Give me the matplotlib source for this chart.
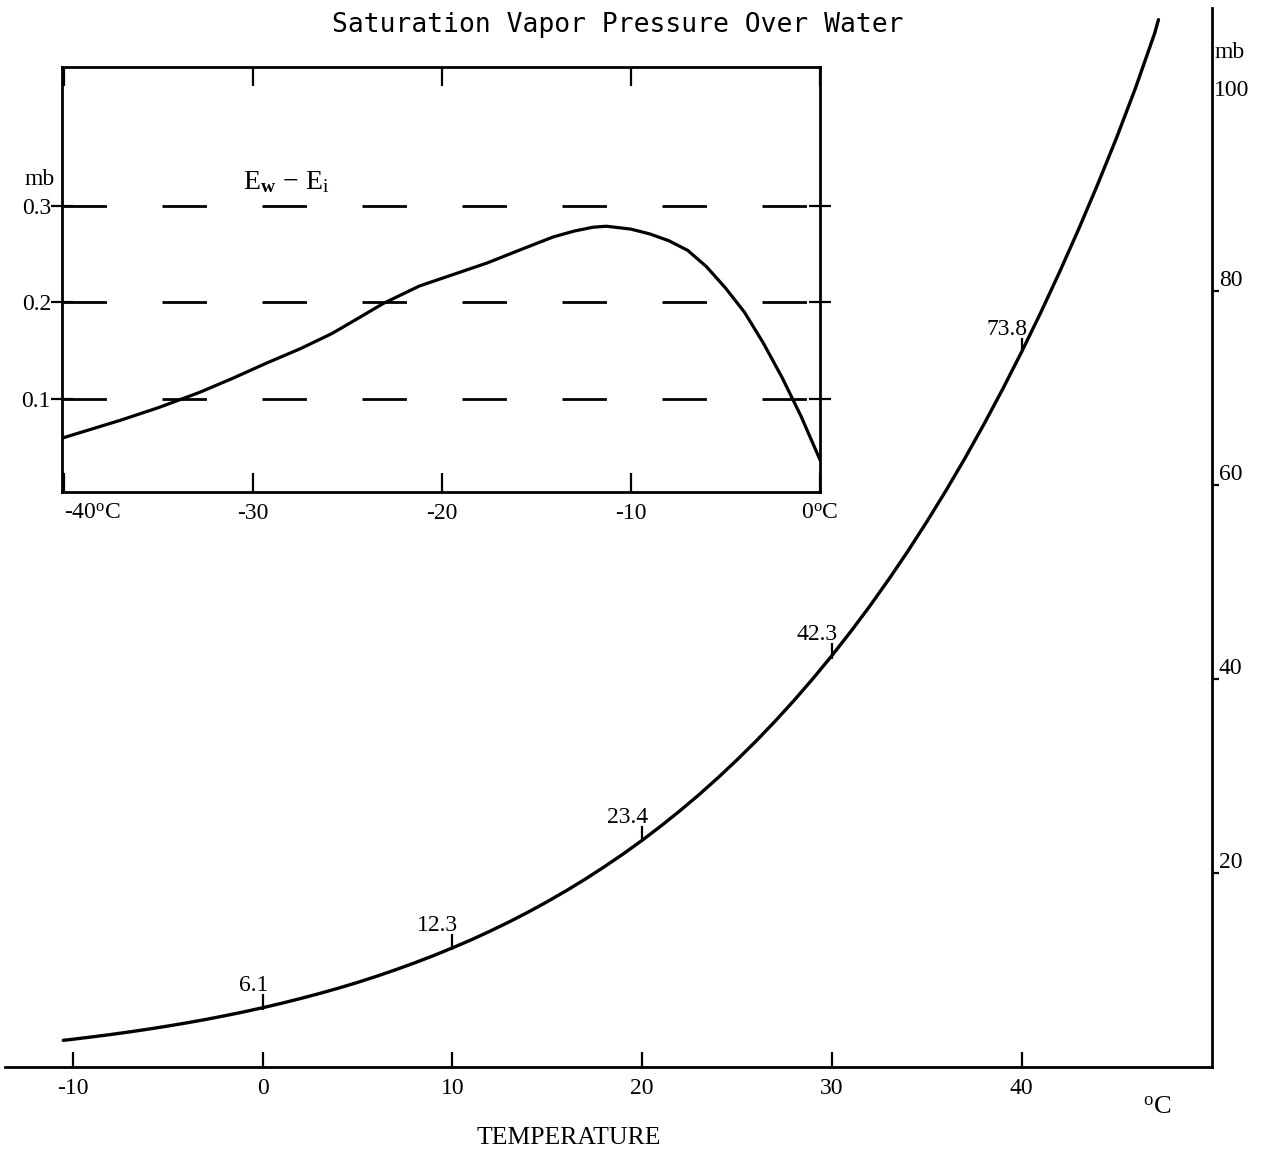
import matplotlib
matplotlib.use("Agg")
import matplotlib.pyplot as plt

# main curve: saturation vapour pressure over water (mb) vs temperature (C)
temp = [-10.5, -10, -9, -8, -7, -6, -5, -4, -3, -2, -1, 0, 1, 2, 3, 4, 5, 6, 7,
        8, 9, 10, 11, 12, 13, 14, 15, 16, 17, 18, 19, 20, 21, 22, 23, 24, 25,
        26, 27, 28, 29, 30, 31, 32, 33, 34, 35, 36, 37, 38, 39, 40, 41, 42,
        43, 44, 45, 46, 47, 47.2]
pres = [2.75, 2.86, 3.10, 3.35, 3.62, 3.91, 4.22, 4.55, 4.90, 5.28, 5.68, 6.11,
        6.57, 7.06, 7.58, 8.13, 8.72, 9.35, 10.02, 10.73, 11.48, 12.28, 13.12,
        14.02, 14.97, 15.98, 17.05, 18.18, 19.37, 20.64, 21.97, 23.38, 24.87,
        26.44, 28.09, 29.84, 31.68, 33.61, 35.65, 37.80, 40.06, 42.43, 44.93,
        47.55, 50.31, 53.20, 56.24, 59.42, 62.76, 66.26, 69.93, 73.78, 77.80,
        82.02, 86.42, 91.03, 95.86, 101.0, 106.6, 108.0]

# marked values on the curve
mark_temp = [0, 10, 20, 30, 40]
mark_pres = [6.1, 12.3, 23.4, 42.3, 73.8]
mark_text = ["6.1", "12.3", "23.4", "42.3", "73.8"]

x_ticks = [-10, 0, 10, 20, 30, 40]
y_ticks = [20, 40, 60, 80]

# inset: Ew - Ei (mb) vs temperature (C)
in_temp = [-40, -38.5, -37, -35, -32.8, -31, -29.3, -27.5, -25.8, -24.4, -23.1,
           -21.2, -19.4, -17.6, -15.8, -14.1, -13, -12, -11.3, -10, -9, -8,
           -7, -6, -5, -4, -3, -2, -1, 0]
in_diff = [0.060, 0.069, 0.078, 0.091, 0.107, 0.122, 0.137, 0.152, 0.168, 0.184,
           0.199, 0.217, 0.229, 0.241, 0.255, 0.268, 0.274, 0.278, 0.279, 0.276,
           0.271, 0.264, 0.254, 0.237, 0.215, 0.190, 0.158, 0.122, 0.082, 0.037]
in_x_ticks = [-40, -30, -20, -10, 0]
in_x_labels = ["-40$^{\\mathrm{o}}$C", "-30", "-20", "-10", "0$^{\\mathrm{o}}$C"]
in_y_ticks = [0.1, 0.2, 0.3]
in_y_labels = ["0.1", "0.2", "0.3"]

plt.rcParams["font.family"] = ["Liberation Serif", "DejaVu Serif"]
plt.rcParams["mathtext.fontset"] = "custom"
plt.rcParams["mathtext.rm"] = "Liberation Serif"
plt.rcParams["mathtext.it"] = "Liberation Serif:italic"
plt.rcParams["mathtext.bf"] = "Liberation Serif:bold"
plt.rcParams["lines.scale_dashes"] = False

W, H = 1267, 1152
fig = plt.figure(figsize=(W / 100, H / 100), dpi=100)

ax = fig.add_axes([5 / W, 1 - 1067 / H, (1212 - 5) / W, (1067 - 8) / H])
ax.set_xlim(-13.57, 50.02)
ax.set_ylim(0, 109.2)
for s in ["left", "top"]:
    ax.spines[s].set_visible(False)
for s in ["bottom", "right"]:
    ax.spines[s].set_linewidth(2)

ax.plot(temp, pres, color="black", lw=2.4, clip_on=False, solid_capstyle="round")

ax.set_xticks(x_ticks)
ax.set_xticklabels([str(t) for t in x_ticks])
ax.tick_params(axis="x", direction="in", length=11, width=1.6, pad=8, labelsize=17)

ax.yaxis.tick_right()
ax.set_yticks(y_ticks)
ax.set_yticklabels([str(v) for v in y_ticks])
ax.tick_params(axis="y", direction="out", length=5, width=1.6, pad=0, labelsize=17)
for lab in ax.get_yticklabels():
    lab.set_va("bottom")
ax.text(50.13, 100.7, "100", ha="left", va="center", fontsize=17, clip_on=False)
ax.text(50.13, 104.6, "mb", ha="left", va="center", fontsize=17, clip_on=False)

for t, p, txt in zip(mark_temp, mark_pres, mark_text):
    ax.vlines(t, p - 0.2, p + 1.4, color="black", lw=1.6)
    ax.annotate(txt, (t, p), xytext=(4, 12), textcoords="offset points",
                ha="right", va="baseline", fontsize=17)

fig.text(1157 / W, 1 - 1108 / H, "$^{\\mathrm{o}}$C", ha="center", va="center", fontsize=19)
fig.text(569 / W, 1 - 1138 / H, "TEMPERATURE", ha="center", va="center", fontsize=18.5)
fig.text(618 / W, 1 - 25 / H, "Saturation Vapor Pressure Over Water",
         ha="center", va="center", fontsize=19, family="DejaVu Sans Mono")

# inset
axi = fig.add_axes([62 / W, 1 - 492 / H, (820 - 62) / W, (492 - 67) / H])
axi.set_xlim(-40.1, 0)
axi.set_ylim(0.0036, 0.444)
for s in axi.spines.values():
    s.set_linewidth(2)

axi.plot(in_temp, in_diff, color="black", lw=2.3)
axi.hlines(in_y_ticks, -40.1, 0, color="black", lw=2,
           linestyles=[(0, (32, 40))])

axi.set_xticks(in_x_ticks)
axi.set_xticklabels(in_x_labels)
axi.tick_params(axis="x", direction="in", top=True, length=14, width=1.6,
                pad=8, labelsize=17)
axi.get_xticklabels()[0].set_ha("left")
axi.set_yticks(in_y_ticks)
axi.set_yticklabels(in_y_labels)
axi.tick_params(axis="y", direction="inout", right=True, length=16, width=1.6,
                pad=0, labelsize=17)

axi.text(-41.3, 0.327, "mb", ha="center", va="center", fontsize=17, clip_on=False)
axi.text(-30.5, 0.325, "$\\mathrm{E_{\\mathbf{w}}\\,-\\,E_i}$", ha="left",
         va="center", fontsize=20)

fig.savefig("out.png", dpi=100, facecolor="white")
